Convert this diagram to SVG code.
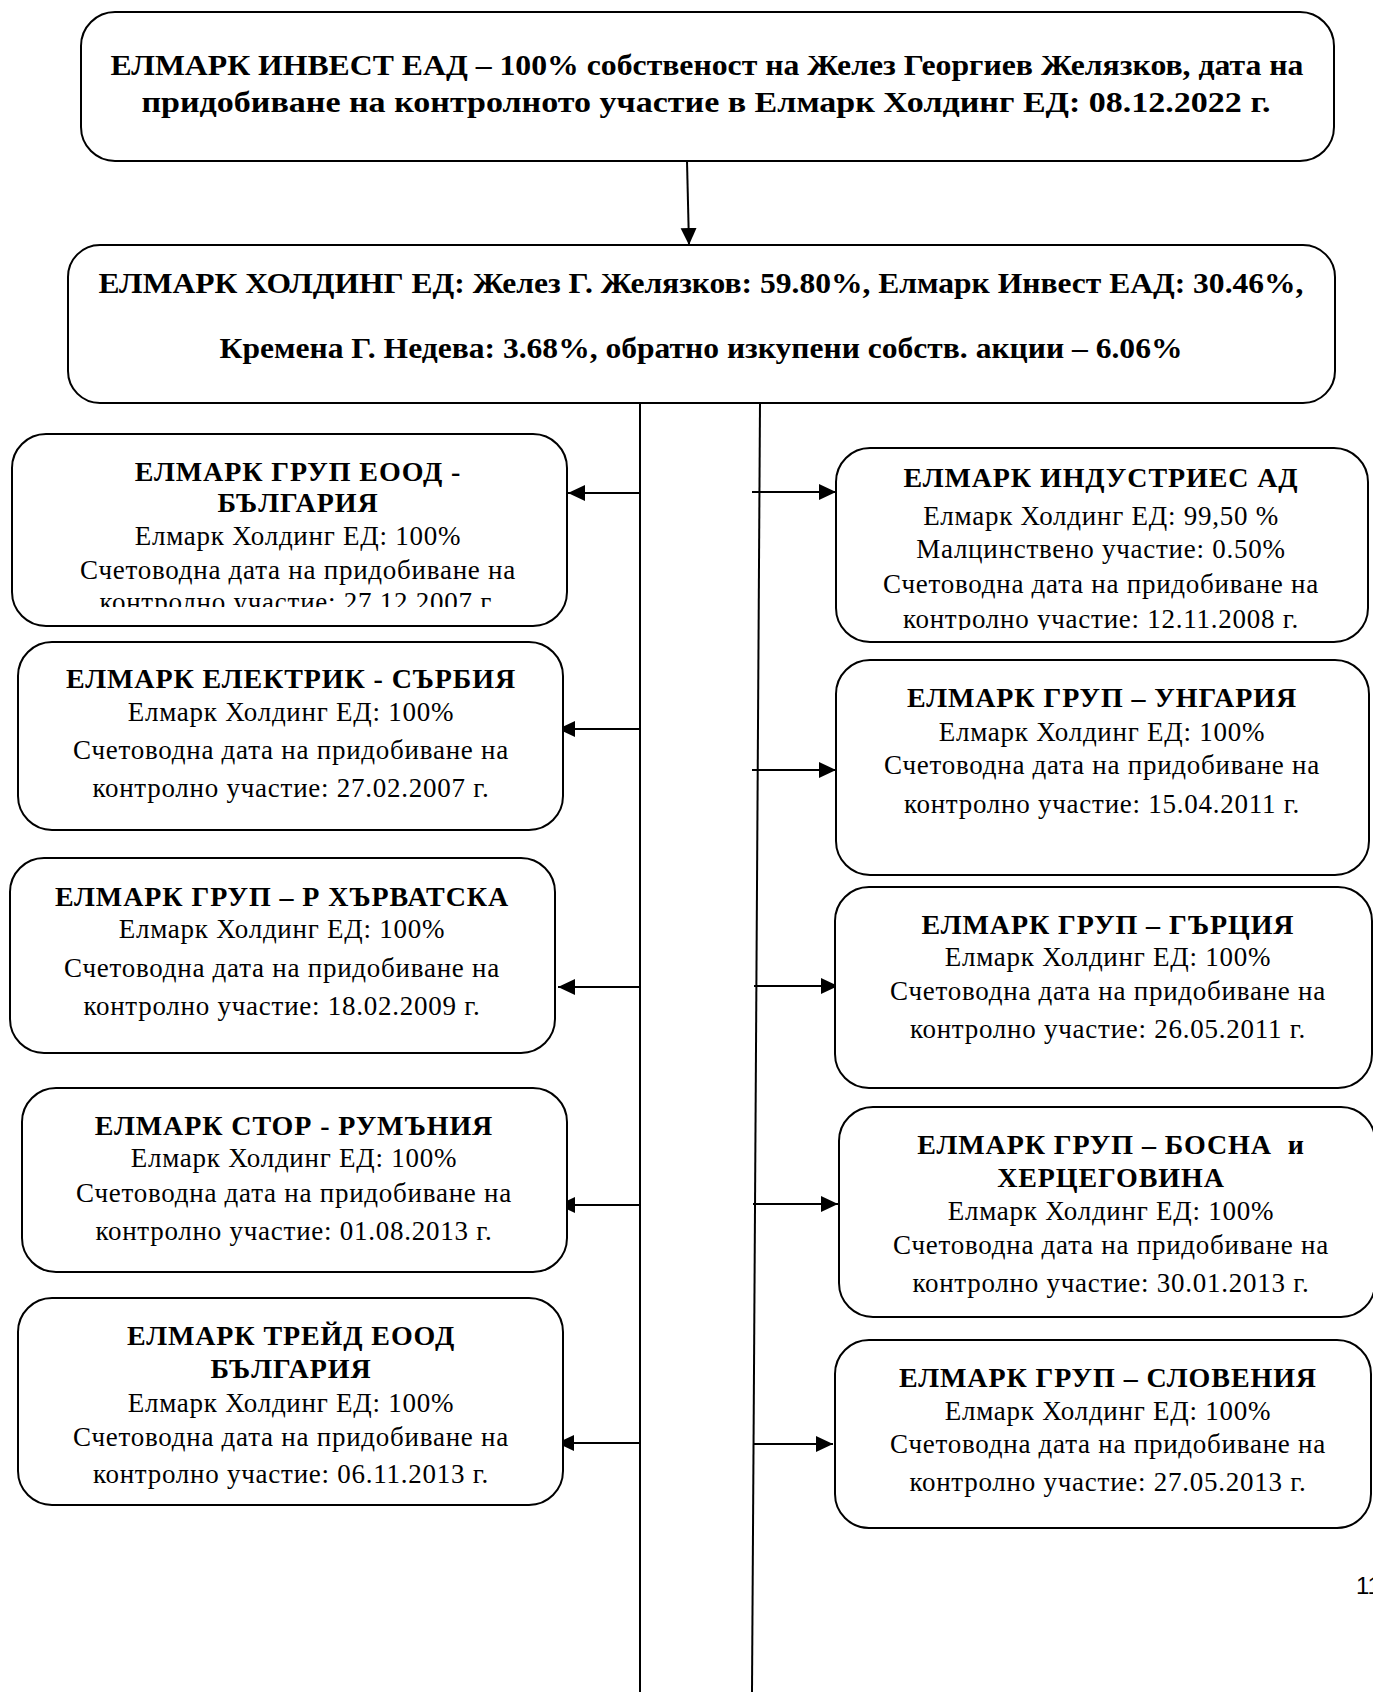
<svg xmlns="http://www.w3.org/2000/svg" width="1373" height="1692" viewBox="0 0 1373 1692">
<style>
.box{fill:#fff;stroke:#000;stroke-width:2}
.t{font-family:"Liberation Serif","Times New Roman",serif;fill:#000;text-anchor:middle}
.b{font-weight:bold;font-size:28px;letter-spacing:0.9px}
.r{font-size:27px;letter-spacing:0.75px}
.hb{font-weight:bold;font-size:30px}
.con{stroke:#000;stroke-width:2;fill:none}
.arr{marker-end:url(#ah)}
</style>
<defs>
<marker id="ah" markerUnits="userSpaceOnUse" markerWidth="18" markerHeight="18" viewBox="0 0 18 18" refX="17" refY="9" orient="auto">
<path d="M0,1 L17,9 L0,17 Z" fill="#000"/>
</marker>
<clipPath id="c1"><rect x="0" y="430" width="700" height="177"/></clipPath>
<clipPath id="c2"><rect x="700" y="440" width="673" height="190"/></clipPath>
</defs>
<rect width="1373" height="1692" fill="#fff"/>

<g id="connectors">
<line class="con arr" x1="687" y1="161" x2="689" y2="245"/>
<line class="con" x1="640" y1="403" x2="640" y2="1692"/>
<line class="con" x1="760" y1="403" x2="752" y2="1692"/>
<line class="con arr" x1="640" y1="493" x2="568" y2="493"/>
<line class="con arr" x1="640" y1="729" x2="558" y2="729"/>
<line class="con arr" x1="640" y1="987" x2="558" y2="987"/>
<line class="con arr" x1="640" y1="1205" x2="558" y2="1205"/>
<line class="con arr" x1="640" y1="1443" x2="557" y2="1443"/>
<line class="con arr" x1="752" y1="492" x2="836" y2="492"/>
<line class="con arr" x1="752" y1="770" x2="836" y2="770"/>
<line class="con arr" x1="754" y1="986" x2="838" y2="986"/>
<line class="con arr" x1="753" y1="1204" x2="838" y2="1204"/>
<line class="con arr" x1="753" y1="1444" x2="833" y2="1444"/>
</g>

<g id="elmark-invest">
<rect class="box" x="81" y="12" width="1253" height="149" rx="34"/>
<text class="t hb" x="707" y="75" textLength="1193" lengthAdjust="spacingAndGlyphs">ЕЛМАРК ИНВЕСТ ЕАД – 100% собственост на Желез Георгиев Желязков, дата на</text>
<text class="t hb" x="706" y="112" textLength="1129" lengthAdjust="spacingAndGlyphs">придобиване на контролното участие в Елмарк Холдинг ЕД: 08.12.2022 г.</text>
</g>

<g id="elmark-holding">
<rect class="box" x="68" y="245" width="1267" height="158" rx="32"/>
<text class="t hb" x="701" y="293" textLength="1205" lengthAdjust="spacingAndGlyphs">ЕЛМАРК ХОЛДИНГ ЕД: Желез Г. Желязков: 59.80%, Елмарк Инвест ЕАД: 30.46%,</text>
<text class="t hb" x="701" y="358" textLength="963" lengthAdjust="spacingAndGlyphs">Кремена Г. Недева: 3.68%, обратно изкупени собств. акции – 6.06%</text>
</g>

<g id="elmark-grup-bulgaria">
<rect class="box" x="12" y="434" width="555" height="192" rx="34"/>
<g clip-path="url(#c1)">
<text class="t b" x="298" y="481">ЕЛМАРК ГРУП ЕООД -</text>
<text class="t b" x="298" y="512">БЪЛГАРИЯ</text>
<text class="t r" x="298" y="545">Елмарк Холдинг ЕД: 100%</text>
<text class="t r" x="298" y="579">Счетоводна дата на придобиване на</text>
<text class="t r" x="298" y="611">контролно участие: 27.12.2007 г.</text>
</g>
</g>

<g id="elmark-elektrik-sarbia">
<rect class="box" x="18" y="642" width="545" height="188" rx="34"/>
<text class="t b" x="291" y="688">ЕЛМАРК ЕЛЕКТРИК - СЪРБИЯ</text>
<text class="t r" x="291" y="721">Елмарк Холдинг ЕД: 100%</text>
<text class="t r" x="291" y="759">Счетоводна дата на придобиване на</text>
<text class="t r" x="291" y="797">контролно участие: 27.02.2007 г.</text>
</g>

<g id="elmark-grup-harvatska">
<rect class="box" x="10" y="858" width="545" height="195" rx="34"/>
<text class="t b" x="282" y="906">ЕЛМАРК ГРУП – Р ХЪРВАТСКА</text>
<text class="t r" x="282" y="938">Елмарк Холдинг ЕД: 100%</text>
<text class="t r" x="282" y="977">Счетоводна дата на придобиване на</text>
<text class="t r" x="282" y="1015">контролно участие: 18.02.2009 г.</text>
</g>

<g id="elmark-stor-rumania">
<rect class="box" x="22" y="1088" width="545" height="184" rx="34"/>
<text class="t b" x="294" y="1135">ЕЛМАРК СТОР - РУМЪНИЯ</text>
<text class="t r" x="294" y="1167">Елмарк Холдинг ЕД: 100%</text>
<text class="t r" x="294" y="1202">Счетоводна дата на придобиване на</text>
<text class="t r" x="294" y="1240">контролно участие: 01.08.2013 г.</text>
</g>

<g id="elmark-treid-bulgaria">
<rect class="box" x="18" y="1298" width="545" height="207" rx="34"/>
<text class="t b" x="291" y="1345">ЕЛМАРК ТРЕЙД ЕООД</text>
<text class="t b" x="291" y="1378">БЪЛГАРИЯ</text>
<text class="t r" x="291" y="1412">Елмарк Холдинг ЕД: 100%</text>
<text class="t r" x="291" y="1446">Счетоводна дата на придобиване на</text>
<text class="t r" x="291" y="1483">контролно участие: 06.11.2013 г.</text>
</g>

<g id="elmark-industries">
<rect class="box" x="836" y="448" width="532" height="194" rx="34"/>
<g clip-path="url(#c2)">
<text class="t b" x="1101" y="487">ЕЛМАРК ИНДУСТРИЕС АД</text>
<text class="t r" x="1101" y="525">Елмарк Холдинг ЕД: 99,50 %</text>
<text class="t r" x="1101" y="558">Малцинствено участие: 0.50%</text>
<text class="t r" x="1101" y="593">Счетоводна дата на придобиване на</text>
<text class="t r" x="1101" y="628">контролно участие: 12.11.2008 г.</text>
</g>
</g>

<g id="elmark-grup-ungaria">
<rect class="box" x="836" y="660" width="533" height="215" rx="34"/>
<text class="t b" x="1102" y="707">ЕЛМАРК ГРУП – УНГАРИЯ</text>
<text class="t r" x="1102" y="741">Елмарк Холдинг ЕД: 100%</text>
<text class="t r" x="1102" y="774">Счетоводна дата на придобиване на</text>
<text class="t r" x="1102" y="813">контролно участие: 15.04.2011 г.</text>
</g>

<g id="elmark-grup-garcia">
<rect class="box" x="835" y="887" width="537" height="201" rx="34"/>
<text class="t b" x="1108" y="934">ЕЛМАРК ГРУП – ГЪРЦИЯ</text>
<text class="t r" x="1108" y="966">Елмарк Холдинг ЕД: 100%</text>
<text class="t r" x="1108" y="1000">Счетоводна дата на придобиване на</text>
<text class="t r" x="1108" y="1038">контролно участие: 26.05.2011 г.</text>
</g>

<g id="elmark-grup-bosna">
<rect class="box" x="839" y="1107" width="536" height="210" rx="34"/>
<text class="t b" x="1111" y="1154" xml:space="preserve">ЕЛМАРК ГРУП – БОСНА  и</text>
<text class="t b" x="1111" y="1187">ХЕРЦЕГОВИНА</text>
<text class="t r" x="1111" y="1220">Елмарк Холдинг ЕД: 100%</text>
<text class="t r" x="1111" y="1254">Счетоводна дата на придобиване на</text>
<text class="t r" x="1111" y="1292">контролно участие: 30.01.2013 г.</text>
</g>

<g id="elmark-grup-slovenia">
<rect class="box" x="835" y="1340" width="536" height="188" rx="34"/>
<text class="t b" x="1108" y="1387">ЕЛМАРК ГРУП – СЛОВЕНИЯ</text>
<text class="t r" x="1108" y="1420">Елмарк Холдинг ЕД: 100%</text>
<text class="t r" x="1108" y="1453">Счетоводна дата на придобиване на</text>
<text class="t r" x="1108" y="1491">контролно участие: 27.05.2013 г.</text>
</g>

<text x="1356" y="1594" font-family="Liberation Sans, Arial, sans-serif" font-size="24" fill="#000">11</text>
</svg>
